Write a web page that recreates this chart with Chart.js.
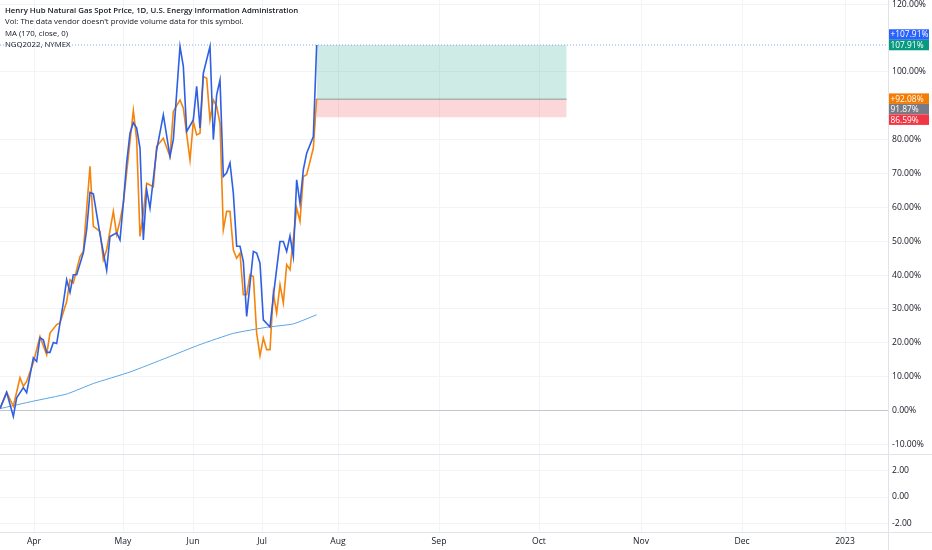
<!DOCTYPE html>
<html>
<head>
<meta charset="utf-8">
<title>Henry Hub Natural Gas Spot Price vs NGQ2022</title>
<script src="https://cdn.jsdelivr.net/npm/chart.js@4.4.1/dist/chart.umd.min.js"></script>
<style>
  html, body { margin: 0; padding: 0; background: #fff; }
  #wrap { position: relative; width: 932px; height: 550px; }
  #legend {
    position: absolute; left: 5px; top: 4.5px;
    font-family: "Open Sans", sans-serif; font-size: 7.8px; line-height: 11.6px;
    color: #131722; pointer-events: none; white-space: nowrap;
  }
  #legend .title { font-weight: 600; }
</style>
</head>
<body>
<div id="wrap">
  <canvas id="gasChart" width="932" height="550"></canvas>
  <div id="legend">
    <div class="title">Henry Hub Natural Gas Spot Price, 1D, U.S. Energy Information Administration</div>
    <div>Vol: The data vendor doesn't provide volume data for this symbol.</div>
    <div>MA (170, close, 0)</div>
    <div>NGQ2022, NYMEX</div>
  </div>
</div>
<script>
// Bar index (trading sessions since the start) and % change
const spotIdx = [0, 2, 4, 5, 7, 8, 10, 11, 12, 13, 14, 15, 16, 17, 19, 20, 21, 22, 23, 25, 26, 27, 28, 30, 32, 33, 35, 36,
  37, 38, 39, 40, 41, 42, 43, 44, 45, 47, 49, 51, 52, 54, 55, 56, 58, 59, 60, 61, 63, 64, 65, 66, 67, 68, 69, 70,
  71, 72, 73, 74, 76, 77, 78, 79, 81, 82, 84, 85, 86, 87, 88, 89, 90, 91, 92, 94, 95];
const spotPct = [0.6, 5.4, -1.7, 3.8, 6.8, 5.3, 15.6, 14.5, 21.5, 20.9, 17.2, 17.2, 20.1, 19.8, 31.8, 38.6, 34.9, 40.1, 40.1, 46.6, 53.4, 64.4, 64.0, 52.0, 41.4, 51.4, 52.5, 50.4,
  61.2, 73.2, 81.9, 85.0, 83.4, 77.5, 50.4, 65.2, 59.8, 77.0, 87.3, 75.0, 80.0, 107.5, 101.6, 82.4, 85.8, 95.7, 83.4, 99.6, 107.5, 80.0, 93.2, 97.6, 69.1, 70.2, 73.1, 64.2,
  48.5, 48.5, 44.0, 27.8, 47.0, 46.5, 43.5, 26.8, 24.7, 33.7, 49.9, 49.9, 47.0, 51.6, 45.5, 68.1, 61.2, 71.1, 76.0, 80.9, 107.91];

const futIdx = [0, 2, 4, 6, 7, 8, 10, 12, 14, 15, 17, 18, 20, 21, 22, 24, 25, 27, 28, 30, 31, 32, 34, 35, 36, 37,
  40, 41, 42, 43, 44, 46, 47, 49, 51, 52, 54, 55, 57, 58, 59, 60, 61, 62, 63, 64, 65, 66, 67, 68, 69, 70,
  71, 72, 73, 74, 75, 76, 77, 78, 79, 80, 81, 82, 83, 84, 85, 86, 87, 89, 90, 91, 92, 94, 95];
const futPct = [0.6, 5.4, 1.3, 9.7, 7.2, 8.6, 14.2, 21.9, 16.5, 22.9, 25.4, 25.9, 32.2, 38.6, 37.7, 45.5, 47.0, 72.1, 54.4, 52.9, 44.5, 47.5, 58.8, 52.0, 56.0, 61.2,
  88.6, 80.0, 51.4, 58.3, 67.1, 66.1, 78.0, 80.4, 75.0, 88.3, 91.7, 89.3, 74.0, 85.3, 81.4, 81.9, 98.6, 98.1, 85.8, 91.7, 89.8, 84.8, 53.4, 58.8, 58.8, 47.5,
  45.0, 46.5, 34.2, 34.2, 40.1, 39.6, 22.9, 16.2, 21.4, 18.0, 18.0, 34.7, 28.8, 37.2, 31.8, 43.1, 41.6, 59.8, 55.9, 69.1, 69.6, 77.5, 92.08];

const maIdx = [0, 10, 20, 28, 39, 50, 60, 70, 80, 88, 95];
const maPct = [0.6, 2.8, 4.9, 8.0, 11.4, 15.6, 19.5, 22.8, 24.6, 25.6, 28.3];

// Long position drawing
const posStart = 95, posEnd = 170;
const targetPct = 107.91, entryPct = 91.87, stopPct = 86.59;

// Time axis
const xMax = 266.4;
const monthTicks = [10.2, 36.9, 57.9, 78.6, 101.4, 131.7, 161.7, 192.3, 222.6, 253.5];
const monthLabels = ['Apr', 'May', 'Jun', 'Jul', 'Aug', 'Sep', 'Oct', 'Nov', 'Dec', '2023'];

const gridColor = '#f3f4f7';
const lineColor = '#e0e3eb';
const tickFont = { family: 'Open Sans', size: 8.6 };

const toPoints = (xs, ys) => xs.map((x, i) => ({ x: x, y: ys[i] }));

// Right-hand price labels: text, value, background, row shift
const priceLabels = [
  { text: '+107.91%', value: 107.91, bg: '#2962ff', shift: -1 },
  { text: '107.91%', value: targetPct, bg: '#089981', shift: 0 },
  { text: '+92.08%', value: 92.08, bg: '#f57c00', shift: 0 },
  { text: '91.87%', value: entryPct, bg: '#787b86', shift: 0 },
  { text: '86.59%', value: stopPct, bg: '#f23645', shift: 0 }
];

// stop Chart.js from reserving room for half tick labels at the pane edges
const noEdgePadding = axis => {
  axis.paddingTop = 0; axis.paddingBottom = 0;
  axis.paddingLeft = 0; axis.paddingRight = 0;
};

const panePlugin = {
  id: 'panes',
  afterDraw(chart) {
    const { ctx, chartArea, scales } = chart;
    ctx.save();
    ctx.strokeStyle = lineColor;
    ctx.lineWidth = 1;
    ctx.beginPath();
    const split = Math.round(scales.y2.top) + 0.5;
    ctx.moveTo(0, split); ctx.lineTo(chart.width, split);
    const bottom = Math.round(chartArea.bottom) + 0.5;
    ctx.moveTo(0, bottom); ctx.lineTo(chart.width, bottom);
    const right = Math.round(chartArea.right) + 0.5;
    ctx.moveTo(right, 0); ctx.lineTo(right, chart.height);
    ctx.stroke();

    // price labels on the right axis
    const h = 10.5;
    let prev = -Infinity;
    ctx.font = '8.4px "Open Sans"';
    ctx.textBaseline = 'middle';
    ctx.textAlign = 'left';
    priceLabels.forEach(l => {
      let c = scales.y.getPixelForValue(l.value) + l.shift * h;
      if (c < prev + h) c = prev + h;
      prev = c;
      ctx.fillStyle = l.bg;
      ctx.fillRect(chartArea.right + 1, c - h / 2, 40, h);
      ctx.fillStyle = '#ffffff';
      ctx.fillText(l.text, chartArea.right + 2.5, c + 0.5);
    });
    ctx.restore();
  }
};

const ctx = document.getElementById('gasChart').getContext('2d');

new Chart(ctx, {
  type: 'line',
  data: {
    datasets: [
      {
        label: 'Henry Hub Natural Gas Spot Price',
        data: toPoints(spotIdx, spotPct),
        borderColor: '#2f5fe3', borderWidth: 1.6, pointRadius: 0, tension: 0
      },
      {
        label: 'NGQ2022, NYMEX',
        data: toPoints(futIdx, futPct),
        borderColor: '#f5840c', borderWidth: 1.6, pointRadius: 0, tension: 0
      },
      {
        label: 'MA (170, close, 0)',
        data: toPoints(maIdx, maPct),
        borderColor: '#5aa5e6', borderWidth: 1, pointRadius: 0, tension: 0.15
      },
      {
        label: 'last price',
        data: [{ x: 0, y: targetPct }, { x: xMax, y: targetPct }],
        borderColor: 'rgba(41, 98, 255, 0.55)', borderWidth: 1, borderDash: [1, 2],
        pointRadius: 0
      },
      {
        label: 'entry',
        data: [{ x: posStart, y: entryPct }, { x: posEnd, y: entryPct }],
        borderColor: 'rgba(120, 140, 130, 0.55)', borderWidth: 1.5, pointRadius: 0
      },
      {
        label: 'target',
        data: [{ x: posStart, y: targetPct }, { x: posEnd, y: targetPct }],
        borderWidth: 0, pointRadius: 0,
        backgroundColor: 'rgba(8, 153, 129, 0.2)', fill: { value: entryPct }
      },
      {
        label: 'stop',
        data: [{ x: posStart, y: stopPct }, { x: posEnd, y: stopPct }],
        borderWidth: 0, pointRadius: 0,
        backgroundColor: 'rgba(242, 54, 69, 0.2)', fill: { value: entryPct }
      }
    ]
  },
  options: {
    responsive: false,
    animation: false,
    layout: { padding: 0 },
    plugins: {
      legend: { display: false },
      tooltip: { enabled: false }
    },
    scales: {
      x: {
        type: 'linear',
        min: 0,
        max: xMax,
        afterBuildTicks: axis => { axis.ticks = monthTicks.map(v => ({ value: v })); },
        afterFit: axis => { axis.height = 18; noEdgePadding(axis); },
        ticks: {
          autoSkip: false, maxRotation: 0, padding: 4,
          color: '#131722', font: tickFont,
          callback: (value, index) => monthLabels[index]
        },
        grid: { color: gridColor, drawTicks: false },
        border: { display: false }
      },
      y: {
        position: 'right',
        stack: 'panes',
        stackWeight: 454,
        min: -12.8,
        max: 121.2,
        afterFit: axis => { axis.width = 44; noEdgePadding(axis); },
        ticks: {
          stepSize: 10, includeBounds: false, padding: 4,
          color: '#131722', font: tickFont,
          callback: v => (v === 110 || v === 90) ? null : v.toFixed(2) + '%'
        },
        grid: {
          drawTicks: false,
          color: c => c.tick && c.tick.value === 0 ? '#c3c6ce' : gridColor
        },
        border: { display: false }
      },
      y2: {
        position: 'right',
        stack: 'panes',
        stackWeight: 78,
        min: -2.6,
        max: 3.2,
        afterFit: axis => { axis.width = 44; noEdgePadding(axis); },
        ticks: {
          stepSize: 2, includeBounds: false, padding: 4,
          color: '#131722', font: tickFont,
          callback: v => v.toFixed(2)
        },
        grid: { color: gridColor, drawTicks: false },
        border: { display: false }
      }
    }
  },
  plugins: [panePlugin]
});
</script>
</body>
</html>
